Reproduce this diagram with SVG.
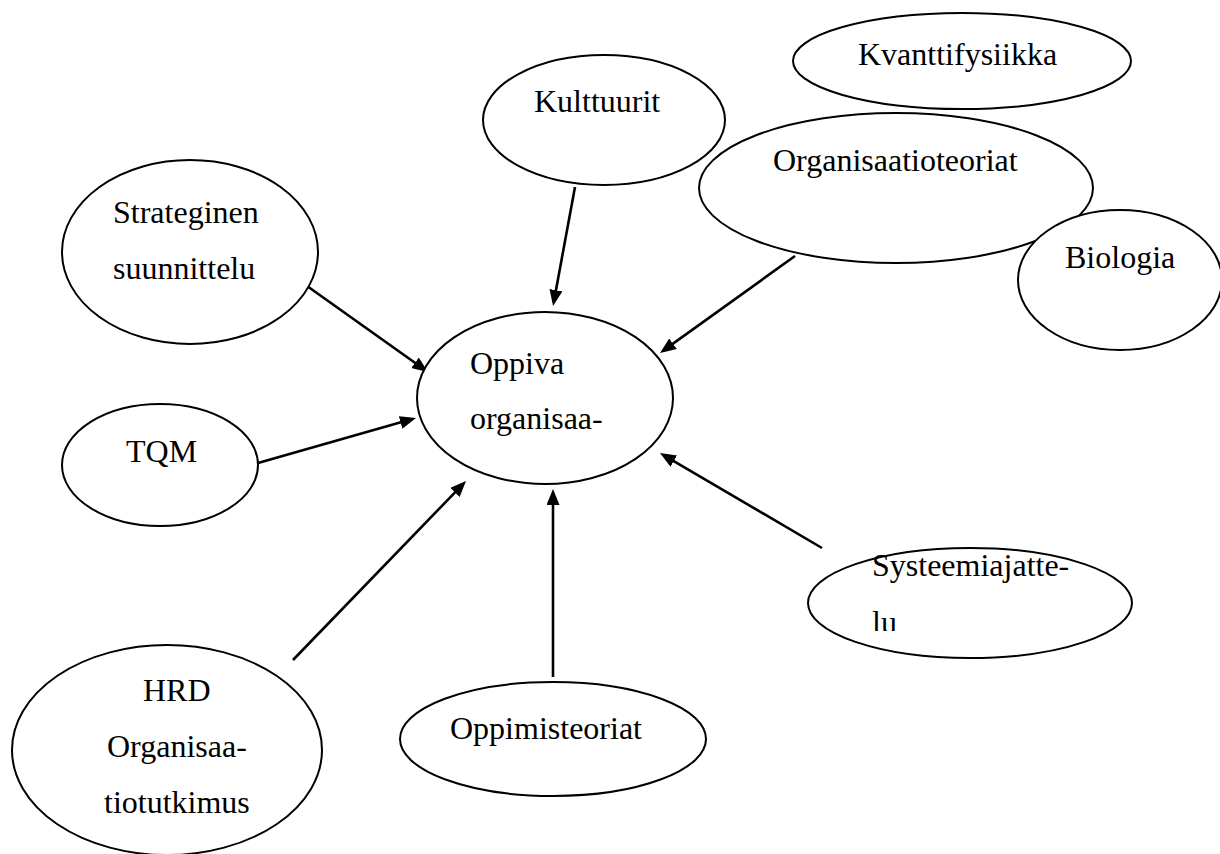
<svg xmlns="http://www.w3.org/2000/svg" width="1220" height="854" viewBox="0 0 1220 854">
<style>
.n{fill:#fff;stroke:#000;stroke-width:2}
.t{font-family:"Liberation Serif","Times New Roman",serif;font-size:32px;fill:#000}
.c{stroke:#000;stroke-width:2.6;fill:none;marker-end:url(#ah)}
</style>
<defs>
<marker id="ah" markerUnits="userSpaceOnUse" markerWidth="16" markerHeight="13" refX="3" refY="6.5" orient="auto">
<path d="M0,0 L16,6.5 L0,13 z" fill="#000"/>
</marker>
<clipPath id="sysclip"><rect x="800" y="540" width="340" height="91"/></clipPath>
</defs>
<rect width="1220" height="854" fill="#fff"/>
<g id="connectors">
<path class="c" d="M575,187 L555.4,293.2"/>
<path class="c" d="M795,256 L670.6,345.4"/>
<path class="c" d="M307,286 L417.4,364.5"/>
<path class="c" d="M258,463 L403.5,421.6"/>
<path class="c" d="M293,660 L457,490.3"/>
<path class="c" d="M553,677 L553,502"/>
<path class="c" d="M822,548 L671.2,459.6"/>
</g>
<g id="kvanttifysiikka">
<ellipse class="n" cx="962" cy="61" rx="169" ry="48"/>
<text class="t" x="858" y="65">Kvanttifysiikka</text>
</g>
<g id="kulttuurit">
<ellipse class="n" cx="604" cy="120" rx="121" ry="65"/>
<text class="t" x="534" y="112">Kulttuurit</text>
</g>
<g id="organisaatioteoriat">
<ellipse class="n" cx="896" cy="188" rx="197" ry="75"/>
<text class="t" x="773" y="171">Organisaatioteoriat</text>
</g>
<g id="biologia">
<ellipse class="n" cx="1120" cy="280" rx="102" ry="70"/>
<text class="t" x="1065" y="268">Biologia</text>
</g>
<g id="strateginen">
<ellipse class="n" cx="190" cy="252" rx="128" ry="92"/>
<text class="t" x="113" y="223">Strateginen</text>
<text class="t" x="113" y="279">suunnittelu</text>
</g>
<g id="oppiva">
<ellipse class="n" cx="545" cy="398" rx="128" ry="86"/>
<text class="t" x="470" y="374">Oppiva</text>
<text class="t" x="470" y="429">organisaa-</text>
</g>
<g id="tqm">
<ellipse class="n" cx="160" cy="465" rx="98" ry="61"/>
<text class="t" x="126" y="462">TQM</text>
</g>
<g id="systeemiajattelu">
<ellipse class="n" cx="970" cy="603" rx="162" ry="55"/>
<g clip-path="url(#sysclip)">
<text class="t" x="872" y="576">Systeemiajatte-</text>
<text class="t" x="872" y="633">lu</text>
</g>
</g>
<g id="oppimisteoriat">
<ellipse class="n" cx="553" cy="739" rx="153" ry="57"/>
<text class="t" x="450" y="739">Oppimisteoriat</text>
</g>
<g id="hrd">
<ellipse class="n" cx="167" cy="750" rx="155" ry="105"/>
<text class="t" x="143" y="701">HRD</text>
<text class="t" x="107" y="757">Organisaa-</text>
<text class="t" x="104" y="813">tiotutkimus</text>
</g>
</svg>
